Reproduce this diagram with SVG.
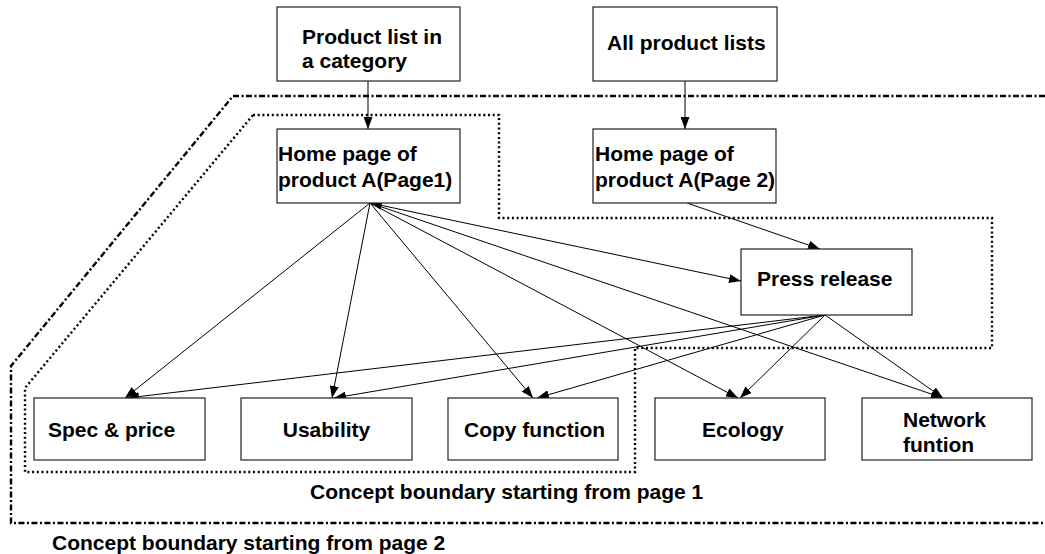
<svg xmlns="http://www.w3.org/2000/svg" width="1045" height="554" viewBox="0 0 1045 554">
  <style>
    .box { fill: #ffffff; stroke: #222222; stroke-width: 1.2; }
    .lbl { font-family: "Liberation Sans", Arial, sans-serif; font-weight: bold; font-size: 21px; fill: #000000; }
    .mid { text-anchor: middle; }
    .edge { stroke: #000000; stroke-width: 1; fill: none; marker-end: url(#arrow); }
    .b1 { fill: none; stroke: #000000; stroke-width: 2.4; stroke-dasharray: 2 2.7; }
    .b2 { fill: none; stroke: #000000; stroke-width: 2.4; stroke-dasharray: 6 2.5 2 2.5; }
  </style>
  <defs>
    <marker id="arrow" viewBox="0 0 12 9" refX="12" refY="4.5" markerWidth="12" markerHeight="9" markerUnits="userSpaceOnUse" orient="auto">
      <path d="M0,0 L12,4.5 L0,9 z" fill="#000000"/>
    </marker>
    <marker id="arrowStart" viewBox="0 0 12 9" refX="12" refY="4.5" markerWidth="12" markerHeight="9" markerUnits="userSpaceOnUse" orient="auto-start-reverse">
      <path d="M0,0 L12,4.5 L0,9 z" fill="#000000"/>
    </marker>
  </defs>

  <!-- concept boundaries -->
  <g id="boundaries">
    <polyline class="b2" points="1045,96 233,96 11,366 11,523 1045,523"/>
    <polygon class="b1" points="253,115 499,115 499,218 992,218 992,348 635,348 635,472 25,472 25,388"/>
  </g>

  <!-- connectors -->
  <g id="connectors">
    <line class="edge" x1="368" y1="81" x2="368" y2="129"/>
    <line class="edge" x1="685" y1="81" x2="685" y2="129"/>
    <line class="edge" x1="687" y1="203" x2="820" y2="249"/>
    <line class="edge" x1="370" y1="203" x2="741" y2="281" style="marker-start: url(#arrowStart);"/>
    <line class="edge" x1="370" y1="203" x2="125" y2="398"/>
    <line class="edge" x1="370" y1="203" x2="332" y2="398"/>
    <line class="edge" x1="370" y1="203" x2="533" y2="398"/>
    <line class="edge" x1="370" y1="203" x2="738" y2="398"/>
    <line class="edge" x1="370" y1="203" x2="943" y2="398"/>
    <line class="edge" x1="825" y1="315" x2="127" y2="398"/>
    <line class="edge" x1="825" y1="315" x2="334" y2="398"/>
    <line class="edge" x1="825" y1="315" x2="537" y2="398"/>
    <line class="edge" x1="825" y1="315" x2="740" y2="398"/>
    <line class="edge" x1="825" y1="315" x2="943" y2="398"/>
  </g>

  <g id="product-list-category">
    <rect class="box" x="277" y="7" width="183" height="74"/>
    <text class="lbl" x="302" y="44">Product list in</text>
    <text class="lbl" x="302" y="68">a category</text>
  </g>
  <g id="all-product-lists">
    <rect class="box" x="593" y="7" width="184" height="74"/>
    <text class="lbl" x="607" y="50">All product lists</text>
  </g>
  <g id="home-page-1">
    <rect class="box" x="277" y="129" width="183" height="74"/>
    <text class="lbl" x="278" y="161">Home page of</text>
    <text class="lbl" x="278" y="187">product A(Page1)</text>
  </g>
  <g id="home-page-2">
    <rect class="box" x="593" y="129" width="183" height="74"/>
    <text class="lbl" x="595" y="161">Home page of</text>
    <text class="lbl" x="595" y="187">product A(Page 2)</text>
  </g>
  <g id="press-release">
    <rect class="box" x="741" y="249" width="171" height="66"/>
    <text class="lbl" x="757" y="286">Press release</text>
  </g>
  <g id="spec-price">
    <rect class="box" x="34" y="398" width="171" height="62"/>
    <text class="lbl" x="48" y="437">Spec &amp; price</text>
  </g>
  <g id="usability">
    <rect class="box" x="241" y="398" width="171" height="62"/>
    <text class="lbl mid" x="326.5" y="437">Usability</text>
  </g>
  <g id="copy-function">
    <rect class="box" x="448" y="398" width="170" height="62"/>
    <text class="lbl" x="464" y="437">Copy function</text>
  </g>
  <g id="ecology">
    <rect class="box" x="655" y="398" width="170" height="62"/>
    <text class="lbl" x="702" y="437">Ecology</text>
  </g>
  <g id="network-funtion">
    <rect class="box" x="862" y="398" width="170" height="62"/>
    <text class="lbl" x="903" y="427">Network</text>
    <text class="lbl" x="903" y="452">funtion</text>
  </g>

  <g id="captions">
    <text class="lbl" x="310" y="499">Concept boundary starting from page 1</text>
    <text class="lbl" x="52" y="550">Concept boundary starting from page 2</text>
  </g>
</svg>
